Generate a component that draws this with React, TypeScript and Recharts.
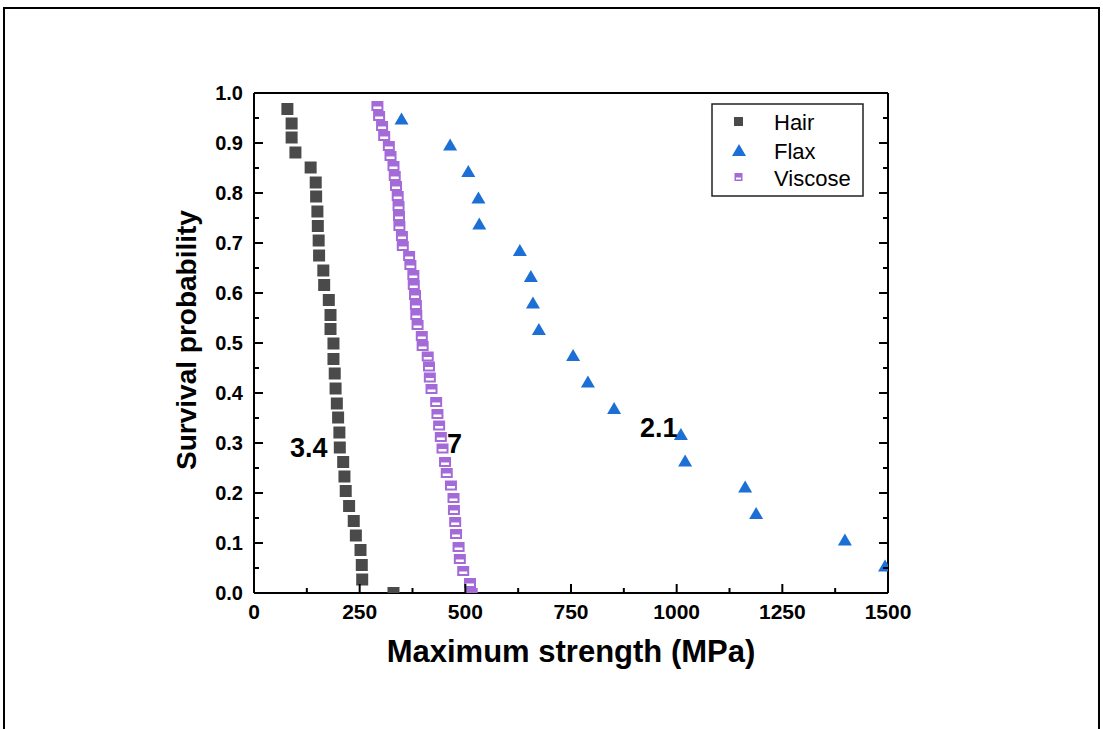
import { ScatterChart, Scatter, XAxis, YAxis } from "recharts";

const FONT = "'Liberation Sans', Arial, sans-serif";

// Maximum strength (MPa) and survival probability for each fibre type
const hairStrength = [79, 89, 89, 98, 134, 146, 147, 150, 151, 153, 154, 164, 166, 177, 181, 181, 188, 188, 191, 193, 196, 199, 202, 203, 211, 214, 217, 225, 236, 241, 252, 255, 256, 330];
const hairSurvival = [0.968, 0.939, 0.911, 0.881, 0.851, 0.821, 0.793, 0.763, 0.734, 0.705, 0.675, 0.645, 0.616, 0.586, 0.556, 0.528, 0.499, 0.468, 0.439, 0.409, 0.379, 0.351, 0.321, 0.291, 0.262, 0.233, 0.204, 0.174, 0.144, 0.115, 0.086, 0.056, 0.027, 0.0];

const flaxStrength = [349, 464, 507, 531, 533, 629, 655, 660, 674, 755, 790, 852, 1010, 1020, 1162, 1188, 1398, 1493];
const flaxSurvival = [0.947, 0.895, 0.842, 0.789, 0.737, 0.684, 0.632, 0.579, 0.526, 0.474, 0.421, 0.368, 0.316, 0.263, 0.211, 0.158, 0.105, 0.053];

const viscoseStrength = [292, 296, 303, 308, 319, 323, 330, 333, 336, 340, 342, 343, 344, 350, 352, 367, 370, 377, 378, 381, 383, 384, 387, 397, 399, 411, 414, 416, 420, 431, 434, 438, 442, 446, 452, 456, 466, 472, 473, 476, 478, 484, 487, 495, 511, 515];
const viscoseSurvival = [0.974, 0.954, 0.934, 0.914, 0.894, 0.874, 0.854, 0.834, 0.814, 0.794, 0.774, 0.754, 0.734, 0.714, 0.694, 0.674, 0.656, 0.636, 0.616, 0.596, 0.576, 0.556, 0.536, 0.514, 0.494, 0.473, 0.453, 0.431, 0.408, 0.382, 0.358, 0.335, 0.312, 0.289, 0.262, 0.24, 0.215, 0.19, 0.166, 0.142, 0.118, 0.092, 0.068, 0.044, 0.02, 0.0];

// Weibull modulus printed next to each curve
const moduli = [
  { text: "3.4", x: 290, y: 457 },
  { text: "7", x: 447, y: 453 },
  { text: "2.1", x: 640, y: 437 },
];

const xTicks = [0, 125, 250, 375, 500, 625, 750, 875, 1000, 1125, 1250, 1375, 1500];
const yTicks = [0, 0.05, 0.1, 0.15, 0.2, 0.25, 0.3, 0.35, 0.4, 0.45, 0.5, 0.55, 0.6, 0.65, 0.7, 0.75, 0.8, 0.85, 0.9, 0.95, 1.0];

const HAIR = "#4a4a4a";
const FLAX = "#1c6fd4";
const VISCOSE = "#a36ad8";

const zip = (xs: number[], ys: number[]) => xs.map((x, i) => ({ x, y: ys[i] }));
const hair = zip(hairStrength, hairSurvival);
const flax = zip(flaxStrength, flaxSurvival);
const viscose = zip(viscoseStrength, viscoseSurvival);

const majorX = (v: number) => v % 250 === 0;
const majorY = (v: number) => Math.round(v * 100) % 10 === 0;

const axisLine = { stroke: "#000", strokeWidth: 2 };

function BottomTick({ x, y, payload }: any) {
  const major = majorX(payload.value);
  return (
    <g>
      <line x1={x} x2={x} y1={y} y2={y - (major ? 9 : 5)} stroke="#000" strokeWidth={2} />
      {major && (
        <text x={x} y={y + 26} textAnchor="middle" fontFamily={FONT} fontWeight="bold" fontSize={21} fill="#000">
          {payload.value}
        </text>
      )}
    </g>
  );
}

function TopTick({ x, y, payload }: any) {
  const major = majorX(payload.value);
  return <line x1={x} x2={x} y1={y} y2={y + (major ? 9 : 5)} stroke="#000" strokeWidth={2} />;
}

function LeftTick({ x, y, payload }: any) {
  const major = majorY(payload.value);
  return (
    <g>
      <line x1={x} x2={x + (major ? 9 : 5)} y1={y} y2={y} stroke="#000" strokeWidth={2} />
      {major && (
        <text x={x - 11} y={y + 7} textAnchor="end" fontFamily={FONT} fontWeight="bold" fontSize={20} fill="#000">
          {payload.value.toFixed(1)}
        </text>
      )}
    </g>
  );
}

function RightTick({ x, y, payload }: any) {
  const major = majorY(payload.value);
  return <line x1={x} x2={x - (major ? 9 : 5)} y1={y} y2={y} stroke="#000" strokeWidth={2} />;
}

function Square({ cx, cy }: any) {
  return <rect x={cx - 6} y={cy - 6} width={12} height={12} fill={HAIR} />;
}

function Triangle({ cx, cy }: any) {
  return <polygon points={`${cx},${cy - 7} ${cx - 7},${cy + 5} ${cx + 7},${cy + 5}`} fill={FLAX} />;
}

// half-filled square: purple block with a white band in its lower half
function HalfSquare({ cx, cy }: any) {
  return (
    <g>
      <rect x={cx - 6} y={cy - 5} width={12} height={10} fill={VISCOSE} />
      <rect x={cx - 4} y={cy + 0.5} width={8} height={2.5} fill="#fff" />
    </g>
  );
}

export default function App() {
  return (
    <div style={{ position: "absolute", left: 0, top: 0, width: 1103, height: 729, overflow: "hidden", background: "#fff" }}>
      <div
        style={{
          position: "absolute",
          left: 3,
          top: 7,
          width: 1097,
          height: 740,
          border: "2px solid #000",
          boxSizing: "border-box",
        }}
      />
      <div style={{ position: "absolute", left: 0, top: 0 }}>
        <ScatterChart width={1103} height={729} margin={{ top: 92, right: 214, bottom: 76, left: 194 }}>
          <XAxis
            xAxisId="bottom"
            type="number"
            dataKey="x"
            domain={[0, 1500]}
            ticks={xTicks}
            interval={0}
            tickSize={0}
            tickMargin={0}
            height={60}
            axisLine={axisLine}
            tickLine={false}
            tick={(p: any) => <BottomTick {...p} />}
            allowDataOverflow
          />
          <XAxis
            xAxisId="top"
            orientation="top"
            type="number"
            domain={[0, 1500]}
            ticks={xTicks}
            interval={0}
            tickSize={0}
            tickMargin={0}
            height={1}
            axisLine={axisLine}
            tickLine={false}
            tick={(p: any) => <TopTick {...p} />}
            allowDataOverflow
          />
          <YAxis
            yAxisId="left"
            type="number"
            dataKey="y"
            domain={[0, 1]}
            ticks={yTicks}
            interval={0}
            tickSize={0}
            tickMargin={0}
            width={60}
            axisLine={axisLine}
            tickLine={false}
            tick={(p: any) => <LeftTick {...p} />}
            allowDataOverflow
          />
          <YAxis
            yAxisId="right"
            orientation="right"
            type="number"
            domain={[0, 1]}
            ticks={yTicks}
            interval={0}
            tickSize={0}
            tickMargin={0}
            width={1}
            axisLine={axisLine}
            tickLine={false}
            tick={(p: any) => <RightTick {...p} />}
            allowDataOverflow
          />
          <Scatter name="Hair" xAxisId="bottom" yAxisId="left" data={hair} shape={(p: any) => <Square {...p} />} isAnimationActive={false} />
          <Scatter name="Flax" xAxisId="bottom" yAxisId="left" data={flax} shape={(p: any) => <Triangle {...p} />} isAnimationActive={false} />
          <Scatter name="Viscose" xAxisId="bottom" yAxisId="left" data={viscose} shape={(p: any) => <HalfSquare {...p} />} isAnimationActive={false} />
        </ScatterChart>
      </div>
      <svg width={1103} height={729} style={{ position: "absolute", left: 0, top: 0, pointerEvents: "none" }}>
        <text x={571} y={662} textAnchor="middle" fontFamily={FONT} fontWeight="bold" fontSize={31} fill="#000">
          Maximum strength (MPa)
        </text>
        <text
          transform="translate(196 340) rotate(-90)"
          textAnchor="middle"
          fontFamily={FONT}
          fontWeight="bold"
          fontSize={28}
          fill="#000"
        >
          Survival probability
        </text>
        {moduli.map((m) => (
          <text key={m.text} x={m.x} y={m.y} fontFamily={FONT} fontWeight="bold" fontSize={27} fill="#000">
            {m.text}
          </text>
        ))}
        <g fontFamily={FONT} fontSize={22} fill="#000">
          <rect x={712} y={104} width={151} height={92} fill="#fff" stroke="#222" strokeWidth={1.5} />
          <rect x={734} y={117} width={9} height={9} fill={HAIR} />
          <text x={774} y={130}>Hair</text>
          <polygon points="739,144 732,156 746,156" fill={FLAX} />
          <text x={774} y={159}>Flax</text>
          <rect x={734.5} y={173} width={8} height={8} fill={VISCOSE} />
          <rect x={736} y={177.5} width={5} height={2} fill="#fff" />
          <text x={774} y={186}>Viscose</text>
        </g>
      </svg>
    </div>
  );
}
